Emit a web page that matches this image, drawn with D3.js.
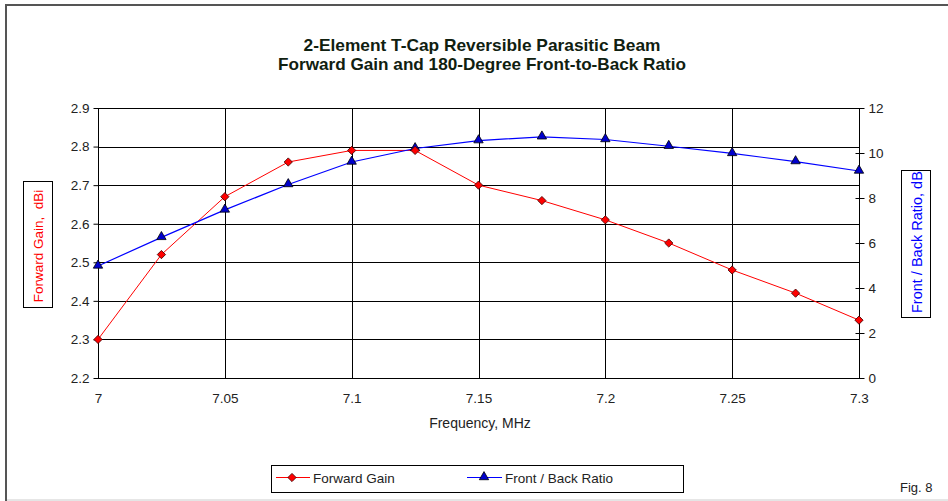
<!DOCTYPE html>
<html>
<head>
<meta charset="utf-8">
<script src="https://cdn.jsdelivr.net/npm/d3@7/dist/d3.min.js"></script>
<style>
  html, body { margin: 0; padding: 0; background: #fff; }
  svg { display: block; }
  text { font-family: Arial, "Liberation Sans", sans-serif; }
</style>
</head>
<body>
<svg id="chart" width="948" height="501"></svg>
<script>
const frequencies = [7.0, 7.025, 7.05, 7.075, 7.1, 7.125, 7.15, 7.175, 7.2, 7.225, 7.25, 7.275, 7.3];
const forwardGain = [2.30, 2.52, 2.67, 2.76, 2.79, 2.79, 2.70, 2.66, 2.61, 2.55, 2.48, 2.42, 2.35];
const frontBack = [4.98, 6.25, 7.47, 8.6, 9.6, 10.2, 10.55, 10.72, 10.6, 10.3, 9.98, 9.62, 9.2];
const xTicks = [7, 7.05, 7.1, 7.15, 7.2, 7.25, 7.3];
const xTickLabels = ["7", "7.05", "7.1", "7.15", "7.2", "7.25", "7.3"];
const leftTicks = [2.2, 2.3, 2.4, 2.5, 2.6, 2.7, 2.8, 2.9];
const rightTicks = [0, 2, 4, 6, 8, 10, 12];
const titleLines = ["2-Element T-Cap Reversible Parasitic Beam", "Forward Gain and 180-Degree Front-to-Back Ratio"];
const seriesNames = ["Forward Gain", "Front / Back Ratio"];

const svg = d3.select("#chart");
const L = 98, R = 859, T = 108, B = 378;
const FS = 13.5;

const x = d3.scaleLinear().domain([7, 7.3]).range([L, R]);
const yL = d3.scaleLinear().domain([2.2, 2.9]).range([B, T]);
const yR = d3.scaleLinear().domain([0, 12]).range([B, T]);

// outer frame
svg.append("line").attr("x1", 5).attr("x2", 948).attr("y1", 5).attr("y2", 5).attr("stroke", "#555").attr("stroke-width", 2);
svg.append("line").attr("x1", 6).attr("x2", 6).attr("y1", 4).attr("y2", 501).attr("stroke", "#555").attr("stroke-width", 2);
svg.append("line").attr("x1", 7).attr("x2", 948).attr("y1", 500).attr("y2", 500).attr("stroke", "#ccc").attr("stroke-width", 1);

// title
const titleWidths = [357, 408];
svg.append("g").selectAll("text").data(titleLines).join("text")
  .attr("x", 482).attr("y", (d, i) => 51 + i * 19)
  .attr("text-anchor", "middle")
  .attr("font-weight", "bold").attr("font-size", 17).attr("fill", "#102010")
  .attr("textLength", (d, i) => titleWidths[i]).attr("lengthAdjust", "spacingAndGlyphs")
  .text(d => d);

// grid
const grid = svg.append("g").attr("stroke", "#000").attr("stroke-width", 1).attr("shape-rendering", "crispEdges");
grid.selectAll(".h").data(leftTicks).join("line")
  .attr("x1", L).attr("x2", R).attr("y1", d => Math.round(yL(d)) + 0.5).attr("y2", d => Math.round(yL(d)) + 0.5);
grid.selectAll(".v").data(xTicks).join("line")
  .attr("y1", T).attr("y2", B).attr("x1", d => Math.round(x(d)) + 0.5).attr("x2", d => Math.round(x(d)) + 0.5);

// left axis
const axL = d3.axisLeft(yL).tickValues(leftTicks).tickFormat(d3.format(".1f")).tickSize(5).tickPadding(4);
const gL = svg.append("g").attr("transform", `translate(${L + 0.5},0)`).call(axL);
gL.select(".domain").remove();
gL.selectAll("text").attr("font-size", FS).attr("fill", "#222").attr("font-family", "Arial, 'Liberation Sans', sans-serif");

// right axis
const axR = d3.axisRight(yR).tickValues(rightTicks).tickSize(5).tickPadding(4);
const gR = svg.append("g").attr("transform", `translate(${R + 0.5},0)`).call(axR);
gR.select(".domain").attr("d", `M0,${T}V${B}`).attr("stroke", "#000");
gR.selectAll(".tick line").attr("x1", -4);
gR.selectAll("text").attr("font-size", FS).attr("fill", "#222").attr("font-family", "Arial, 'Liberation Sans', sans-serif");

// bottom axis
const axB = d3.axisBottom(x).tickValues(xTicks).tickFormat((d, i) => xTickLabels[i]).tickSize(0).tickPadding(15);
const gB = svg.append("g").attr("transform", `translate(0,${B + 0.5})`).call(axB);
gB.select(".domain").remove();
gB.selectAll("text").attr("font-size", FS).attr("fill", "#222").attr("font-family", "Arial, 'Liberation Sans', sans-serif");

// axis titles
svg.append("text").attr("x", 480).attr("y", 428).attr("text-anchor", "middle")
  .attr("font-size", 14).attr("fill", "#222").text("Frequency, MHz");

// left axis title box
svg.append("rect").attr("x", 23.5).attr("y", 181.5).attr("width", 29).attr("height", 126)
  .attr("fill", "#fff").attr("stroke", "#000");
svg.append("text").attr("transform", "translate(43,246) rotate(-90)").attr("text-anchor", "middle")
  .attr("font-size", 13.5).attr("fill", "#ff0000").attr("xml:space", "preserve").text("Forward Gain,  dBi");

// right axis title box
svg.append("defs").append("clipPath").attr("id", "rclip")
  .append("rect").attr("x", 902).attr("y", 171).attr("width", 28).attr("height", 146);
svg.append("rect").attr("x", 901.5).attr("y", 170.5).attr("width", 29).attr("height", 147)
  .attr("fill", "#fff").attr("stroke", "#000");
svg.append("g").attr("clip-path", "url(#rclip)")
  .append("text").attr("transform", "translate(922,313) rotate(-90)").attr("text-anchor", "start")
  .attr("font-size", 14.5).attr("fill", "#0000ff").text("Front / Back Ratio, dB");

// lines
const fgData = frequencies.map((f, i) => [f, forwardGain[i]]);
const fbData = frequencies.map((f, i) => [f, frontBack[i]]);
svg.append("path").datum(fgData).attr("fill", "none").attr("stroke", "#ff0000").attr("stroke-width", 1)
  .attr("d", d3.line().x(d => x(d[0])).y(d => yL(d[1])));
svg.append("path").datum(fbData).attr("fill", "none").attr("stroke", "#0000ff").attr("stroke-width", 1.2)
  .attr("d", d3.line().x(d => x(d[0])).y(d => yR(d[1])));

const diamond = d3.symbol().type(d3.symbolSquare).size(34);
const triangle = d3.symbol().type(d3.symbolTriangle).size(38);

svg.append("g").selectAll("path").data(fbData).join("path")
  .attr("transform", d => `translate(${x(d[0])},${yR(d[1]) - 0.5})`)
  .attr("d", triangle).attr("fill", "#0000cc").attr("stroke", "#000").attr("stroke-width", 0.8);
svg.append("g").selectAll("path").data(fgData).join("path")
  .attr("transform", d => `translate(${x(d[0])},${yL(d[1])}) rotate(45)`)
  .attr("d", diamond).attr("fill", "#ff0000").attr("stroke", "#400").attr("stroke-width", 0.8);

// legend
const lg = svg.append("g");
lg.append("rect").attr("x", 271.5).attr("y", 465.5).attr("width", 412).attr("height", 27)
  .attr("fill", "#fff").attr("stroke", "#000");
lg.append("line").attr("x1", 276).attr("x2", 310).attr("y1", 477.5).attr("y2", 477.5).attr("stroke", "#ff0000");
lg.append("path").attr("transform", "translate(292,477.5) rotate(45)").attr("d", diamond)
  .attr("fill", "#ff0000").attr("stroke", "#400").attr("stroke-width", 0.8);
lg.append("text").attr("x", 313).attr("y", 483).attr("font-size", FS).attr("fill", "#222").text(seriesNames[0]);
lg.append("line").attr("x1", 467).attr("x2", 502).attr("y1", 477.5).attr("y2", 477.5).attr("stroke", "#0000ff");
lg.append("path").attr("transform", "translate(484,477)").attr("d", triangle)
  .attr("fill", "#0000cc").attr("stroke", "#000").attr("stroke-width", 0.8);
lg.append("text").attr("x", 505).attr("y", 483).attr("font-size", FS).attr("fill", "#222").text(seriesNames[1]);

// fig label
svg.append("text").attr("x", 900).attr("y", 492).attr("font-size", 13).attr("fill", "#222").text("Fig. 8");
</script>
</body>
</html>
